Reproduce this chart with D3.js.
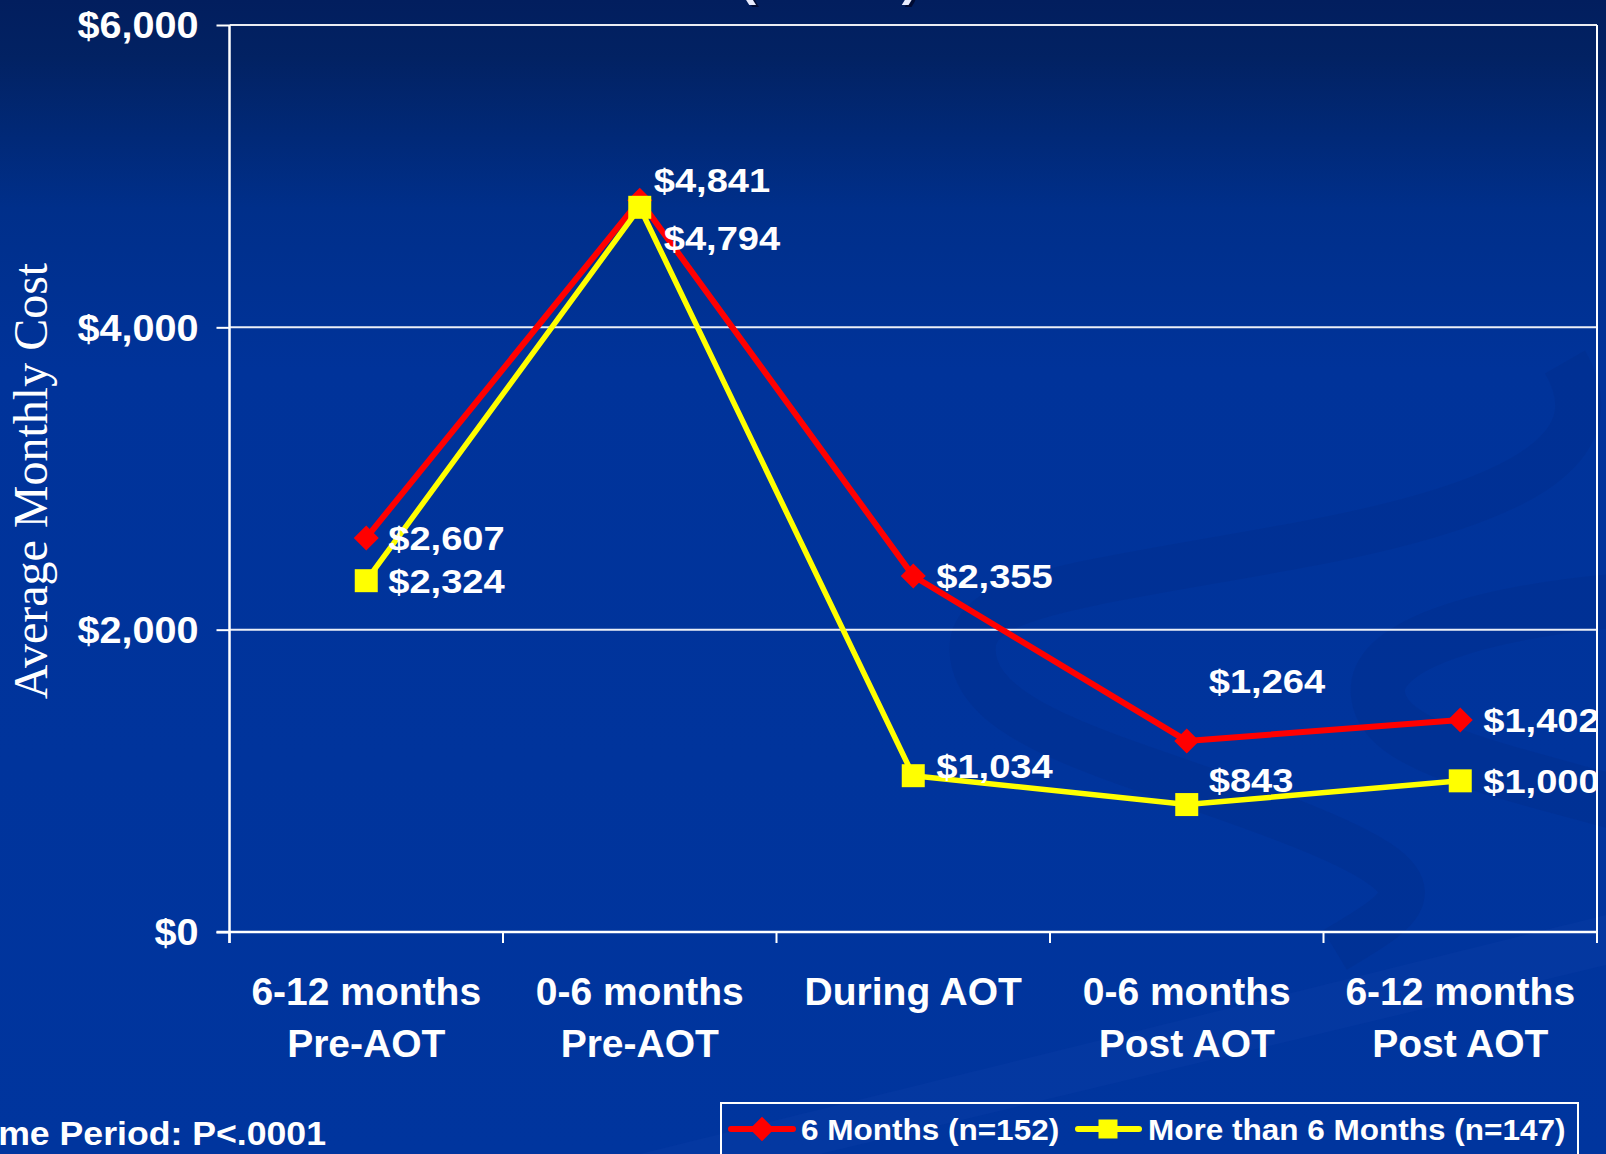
<!DOCTYPE html>
<html>
<head>
<meta charset="utf-8">
<script src="https://cdn.jsdelivr.net/npm/d3@7"></script>
<style>
  html, body { margin: 0; padding: 0; background: #00349c; overflow: hidden; }
  svg { display: block; }
  text { font-family: "Liberation Sans", Arial, sans-serif; font-weight: bold; fill: #ffffff; }
</style>
</head>
<body>
<svg id="chart" width="1606" height="1154"></svg>
<script>
// Average monthly cost per period, by length of AOT order
const categoryTop    = ["6-12 months", "0-6 months", "During AOT", "0-6 months", "6-12 months"];
const categoryBottom = ["Pre-AOT", "Pre-AOT", "", "Post AOT", "Post AOT"];
const sixMonths      = [2607, 4841, 2355, 1264, 1402];
const moreThanSix    = [2324, 4794, 1034, 843, 1000];
const yTickValues    = [0, 2000, 4000, 6000];
const seriesNames    = ["6 Months (n=152)", "More than 6 Months (n=147)"];
const footnote       = "Time Period: P<.0001";
const titleLine      = "(N=299)";

// label placement relative to each marker [dx, dy]
const redLabelOffsets    = [[22, 0], [14, -20], [23, 0], [22, -60], [23, 0]];
const yellowLabelOffsets = [[22, 0], [24, 30], [23, -10], [22, -25], [23, 0]];

const W = 1606, H = 1154;
const plot = { left: 229.5, right: 1597, top: 25, bottom: 932 };
const RED = "#ff0000", YELLOW = "#ffff00";

const svg = d3.select("#chart");
const defs = svg.append("defs");

// backdrop gradient
const grad = defs.append("linearGradient").attr("id", "bg").attr("x1", 0).attr("y1", 0).attr("x2", 0).attr("y2", 1);
[[0, "#021e5e"], [0.05, "#022263"], [0.18, "#002f8a"], [0.32, "#00339a"], [1, "#00359e"]]
  .forEach(([o, c]) => grad.append("stop").attr("offset", o).attr("stop-color", c));
svg.append("rect").attr("width", W).attr("height", H).attr("fill", "url(#bg)");

// faint decorative ribbons
const deco = svg.append("g").attr("fill", "none");
deco.append("path")
  .attr("d", "M1565,362 C1610,440 1545,500 1300,545 S955,595 975,665 S1150,765 1300,825 S1410,905 1335,950")
  .attr("stroke", "#002a86").attr("stroke-opacity", 0.28).attr("stroke-width", 46);
deco.append("path")
  .attr("d", "M1625,600 C1480,612 1372,645 1378,695 S1480,765 1625,805")
  .attr("stroke", "#002a86").attr("stroke-opacity", 0.28).attr("stroke-width", 54);
svg.append("path")
  .attr("d", "M640,1154 L1606,915 L1606,965 L820,1154 Z")
  .attr("fill", "#1a4cb8").attr("fill-opacity", 0.15);

// scales
const x = d3.scaleBand().domain(d3.range(categoryTop.length)).range([plot.left, plot.right]).padding(0);
const cx = i => x(i) + x.bandwidth() / 2;
const y = d3.scaleLinear().domain([0, 6000]).range([plot.bottom, plot.top]);

// horizontal stretch for bold numerals
function stretch(sel, k) {
  sel.each(function () {
    const w = this.getComputedTextLength();
    this.setAttribute("textLength", w * k);
    this.setAttribute("lengthAdjust", "spacingAndGlyphs");
  });
}

// gridlines
svg.append("g").selectAll("line").data(yTickValues.filter(d => d > 0)).join("line")
  .attr("x1", plot.left).attr("x2", plot.right)
  .attr("y1", d => y(d)).attr("y2", d => y(d))
  .attr("stroke", "#ffffff").attr("stroke-width", 2).attr("stroke-opacity", 0.92);

// right frame line
svg.append("line").attr("x1", plot.right).attr("x2", plot.right)
  .attr("y1", plot.top).attr("y2", plot.bottom + 11)
  .attr("stroke", "#ffffff").attr("stroke-width", 2);

// y axis
const yAxis = svg.append("g").attr("transform", `translate(${plot.left},0)`)
  .call(d3.axisLeft(y).tickValues(yTickValues).tickSize(13).tickSizeOuter(0).tickPadding(18)
    .tickFormat(d3.format("$,")));
yAxis.select(".domain").attr("stroke", "#ffffff").attr("stroke-width", 2.5)
  .attr("d", `M0,${plot.top}V${plot.bottom + 11}`);
yAxis.selectAll(".tick line").attr("stroke", "#ffffff").attr("stroke-width", 2);
yAxis.selectAll(".tick text").attr("fill", "#ffffff").style("font-size", "36px")
  .style("font-family", "'Liberation Sans', Arial, sans-serif").style("font-weight", "bold")
  .attr("dy", "0.36em").call(stretch, 1.1);

// x axis
const boundaries = x.domain().map(i => x(i)).concat([plot.right]);
const xAxis = svg.append("g");
xAxis.append("line").attr("x1", plot.left - 13).attr("x2", plot.right)
  .attr("y1", plot.bottom).attr("y2", plot.bottom)
  .attr("stroke", "#ffffff").attr("stroke-width", 2.5);
xAxis.selectAll("line.tk").data(boundaries).join("line").attr("class", "tk")
  .attr("x1", d => d).attr("x2", d => d)
  .attr("y1", plot.bottom).attr("y2", plot.bottom + 11)
  .attr("stroke", "#ffffff").attr("stroke-width", 2);
const xl = xAxis.selectAll("text.cat").data(x.domain()).join("text").attr("class", "cat")
  .attr("text-anchor", "middle").style("font-size", "39px");
xl.append("tspan").attr("x", d => cx(d)).attr("y", 1005).text(d => categoryTop[d]);
xl.append("tspan").attr("x", d => cx(d)).attr("y", 1057).text(d => categoryBottom[d]);

// y axis title
svg.append("text")
  .attr("transform", "translate(47,481) rotate(-90)")
  .attr("text-anchor", "middle")
  .style("font-family", "'Liberation Serif', 'Times New Roman', serif")
  .style("font-weight", "normal").style("font-size", "48px")
  .text("Average Monthly Cost");

// series
const line = d3.line().x((d, i) => cx(i)).y(d => y(d));
const diamond = d3.symbol(d3.symbolSquare, 313);
const square = d3.symbol(d3.symbolSquare, 529);

svg.append("path").datum(sixMonths).attr("d", line)
  .attr("fill", "none").attr("stroke", RED).attr("stroke-width", 6).attr("stroke-linejoin", "round");
svg.append("g").selectAll("path").data(sixMonths).join("path")
  .attr("d", diamond).attr("fill", RED)
  .attr("transform", (d, i) => `translate(${cx(i)},${y(d)}) rotate(45)`);

svg.append("path").datum(moreThanSix).attr("d", line)
  .attr("fill", "none").attr("stroke", YELLOW).attr("stroke-width", 5.5).attr("stroke-linejoin", "round");
svg.append("g").selectAll("path").data(moreThanSix).join("path")
  .attr("d", square).attr("fill", YELLOW)
  .attr("transform", (d, i) => `translate(${cx(i)},${y(d)})`);

// value labels, clipped at the plot frame
defs.append("clipPath").attr("id", "plotClip").append("rect")
  .attr("x", 0).attr("y", 0).attr("width", plot.right).attr("height", H);
const labels = svg.append("g").attr("clip-path", "url(#plotClip)");
function valueLabels(values, offsets) {
  labels.append("g").selectAll("text").data(values).join("text")
    .attr("x", (d, i) => cx(i) + offsets[i][0])
    .attr("y", (d, i) => y(d) + offsets[i][1])
    .attr("dy", "0.36em")
    .style("font-size", "34px")
    .text(d => d3.format("$,")(d))
    .call(stretch, 1.12);
}
valueLabels(sixMonths, redLabelOffsets);
valueLabels(moreThanSix, yellowLabelOffsets);

// legend
const lg = svg.append("g");
lg.append("rect").attr("x", 721).attr("y", 1103).attr("width", 857).attr("height", 90)
  .attr("fill", "none").attr("stroke", "#ffffff").attr("stroke-width", 2);
lg.append("line").attr("x1", 731).attr("x2", 793).attr("y1", 1129).attr("y2", 1129)
  .attr("stroke", RED).attr("stroke-width", 6).attr("stroke-linecap", "round");
lg.append("path").attr("d", d3.symbol(d3.symbolSquare, 300)).attr("fill", RED)
  .attr("transform", "translate(762,1129) rotate(45)");
lg.append("text").attr("x", 801).attr("y", 1140).style("font-size", "30px").text(seriesNames[0])
  .call(stretch, 1.05);
lg.append("line").attr("x1", 1078).attr("x2", 1139).attr("y1", 1129).attr("y2", 1129)
  .attr("stroke", YELLOW).attr("stroke-width", 6).attr("stroke-linecap", "round");
lg.append("path").attr("d", d3.symbol(d3.symbolSquare, 361)).attr("fill", YELLOW)
  .attr("transform", "translate(1108,1129)");
lg.append("text").attr("x", 1148).attr("y", 1140).style("font-size", "30px").text(seriesNames[1])
  .call(stretch, 1.05);

// significance note
svg.append("text").attr("x", 326).attr("y", 1145).attr("text-anchor", "end")
  .style("font-size", "33px").text(footnote).call(stretch, 1.08);

// title line running off the top edge
svg.append("text").attr("x", 832).attr("y", -3).attr("text-anchor", "middle")
  .style("font-size", "49px").style("fill", "#000b33").text(titleLine);
svg.append("text").attr("x", 829).attr("y", -5).attr("text-anchor", "middle")
  .style("font-size", "49px").style("fill", "#e8ecff").text(titleLine);
</script>
</body>
</html>
